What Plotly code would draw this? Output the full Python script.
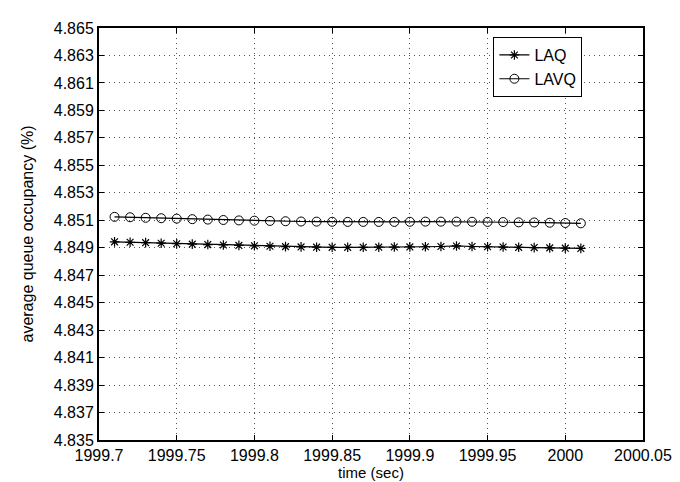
import plotly.graph_objects as go

time_sec = [1999.71, 1999.72, 1999.73, 1999.74, 1999.75, 1999.76, 1999.77, 1999.78,
            1999.79, 1999.80, 1999.81, 1999.82, 1999.83, 1999.84, 1999.85, 1999.86,
            1999.87, 1999.88, 1999.89, 1999.90, 1999.91, 1999.92, 1999.93, 1999.94,
            1999.95, 1999.96, 1999.97, 1999.98, 1999.99, 2000.00, 2000.01]

laq = [4.84943, 4.84940, 4.84937, 4.84933, 4.84929, 4.84926, 4.84923, 4.84920,
       4.84917, 4.84914, 4.84911, 4.84908, 4.84906, 4.84904, 4.84903, 4.84903,
       4.84903, 4.84904, 4.84905, 4.84906, 4.84907, 4.84909, 4.84913, 4.84909,
       4.84907, 4.84905, 4.84903, 4.84901, 4.84899, 4.84897, 4.84895]

lavq = [4.85125, 4.85122, 4.85118, 4.85115, 4.85112, 4.85108, 4.85105, 4.85102,
        4.85099, 4.85097, 4.85095, 4.85093, 4.85091, 4.85090, 4.85089, 4.85088,
        4.85088, 4.85088, 4.85088, 4.85089, 4.85090, 4.85090, 4.85090, 4.85089,
        4.85088, 4.85087, 4.85085, 4.85084, 4.85082, 4.85080, 4.85078]

x_tickvals = [1999.7, 1999.75, 1999.8, 1999.85, 1999.9, 1999.95, 2000.0, 2000.05]
x_ticktext = ["1999.7", "1999.75", "1999.8", "1999.85", "1999.9", "1999.95", "2000", "2000.05"]
y_tickvals = [4.835 + 0.002 * i for i in range(16)]
y_ticktext = ["%.3f" % v for v in y_tickvals]

fig = go.Figure()
fig.add_trace(go.Scatter(
    x=time_sec, y=laq, name="LAQ", mode="lines+markers",
    line=dict(color="black", width=1.2),
    marker=dict(symbol="asterisk-open", size=8, color="black", line=dict(color="black", width=1.2)),
))
fig.add_trace(go.Scatter(
    x=time_sec, y=lavq, name="LAVQ", mode="lines+markers",
    line=dict(color="black", width=1.2),
    marker=dict(symbol="circle-open", size=9, color="black", line=dict(color="black", width=1)),
))

axis_common = dict(
    showline=True, linecolor="black", linewidth=2, mirror="ticks",
    ticks="inside", ticklen=5, tickcolor="black", tickwidth=1,
    showgrid=True, gridcolor="#555555", gridwidth=1, griddash="1px,4px",
    zeroline=False, tickfont=dict(size=16, color="black"),
)

fig.update_layout(
    width=680, height=482,
    margin=dict(l=91, r=45, t=12, b=50),
    paper_bgcolor="white", plot_bgcolor="white",
    font=dict(family="Liberation Sans, Arial, sans-serif", color="black"),
    xaxis=dict(range=[1999.7, 2000.05], tickvals=x_tickvals, ticktext=x_ticktext,
               title=dict(text="time (sec)", font=dict(size=15), standoff=0), **axis_common),
    yaxis=dict(range=[4.835, 4.865], tickvals=y_tickvals, ticktext=y_ticktext,
               title=dict(text="average queue occupancy (%)", font=dict(size=16), standoff=16),
               **axis_common),
    legend=dict(x=0.725, y=0.978, xanchor="left", yanchor="top",
                bgcolor="white", bordercolor="black", borderwidth=1,
                font=dict(size=16), tracegroupgap=0, itemwidth=30),
    showlegend=True,
)

fig.write_html("out.html")
